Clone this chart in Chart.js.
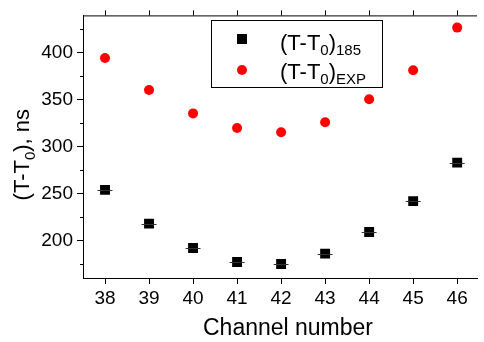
<!DOCTYPE html>
<html>
<head>
<meta charset="utf-8">
<script src="https://cdn.jsdelivr.net/npm/chart.js@4.4.0/dist/chart.umd.min.js"></script>
<style>
  html, body { margin: 0; padding: 0; background: #fff; }
  #wrap { width: 484px; height: 342px; position: relative; }
</style>
</head>
<body>
<div id="wrap"><canvas id="chart"></canvas></div>
<script>
// data
const channels = [38, 39, 40, 41, 42, 43, 44, 45, 46];
const t185 = [254, 218, 192, 177, 175, 186, 209, 242, 283];
const tExp = [394.5, 360.5, 335.5, 320, 315.5, 326, 350.5, 381.5, 427];
const t185Err = [0.17, 0.17, 0.17, 0.17, 0.17, 0.17, 0.17, 0.17, 0.17];
const xTicks = [38, 39, 40, 41, 42, 43, 44, 45, 46];
const yTicks = [200, 250, 300, 350, 400];
const yMinorTicks = [175, 225, 275, 325, 375, 425];

const FONT = "'Liberation Sans', Arial, sans-serif";

// draws text with a subscript part: parts = [[text, isSub], ...]
function drawRich(ctx, parts, x, y, size, subSize, subShift) {
  let cx = x;
  parts.forEach(function (p) {
    ctx.font = (p[1] ? subSize : size) + "px " + FONT;
    ctx.fillText(p[0], cx, p[1] ? y + subShift : y);
    cx += ctx.measureText(p[0]).width;
  });
  return cx - x;
}

function richWidth(ctx, parts, size, subSize) {
  let w = 0;
  parts.forEach(function (p) {
    ctx.font = (p[1] ? subSize : size) + "px " + FONT;
    w += ctx.measureText(p[0]).width;
  });
  return w;
}

const decorPlugin = {
  id: "decor",
  afterDatasetsDraw(chart) {
    const ctx = chart.ctx;
    const xs = chart.scales.x;
    const ys = chart.scales.y;
    const area = chart.chartArea;
    ctx.save();

    // error bars on black squares
    ctx.strokeStyle = "#333";
    ctx.lineWidth = 1;
    channels.forEach(function (c, i) {
      const y = Math.round(ys.getPixelForValue(t185[i])) + 0.5;
      ctx.beginPath();
      ctx.moveTo(xs.getPixelForValue(c - t185Err[i]), y);
      ctx.lineTo(xs.getPixelForValue(c + t185Err[i]), y);
      ctx.stroke();
    });

    // top frame line and ticks
    ctx.strokeStyle = "#000";
    ctx.beginPath();
    ctx.moveTo(area.left, area.top + 0.5);
    ctx.lineTo(area.right, area.top + 0.5);
    ctx.stroke();
    xTicks.forEach(function (v) {
      const x = Math.round(xs.getPixelForValue(v)) + 0.5;
      ctx.beginPath();
      ctx.moveTo(x, area.top);
      ctx.lineTo(x, area.top - 5);
      ctx.stroke();
    });

    // minor y ticks
    yMinorTicks.forEach(function (v) {
      const y = Math.round(ys.getPixelForValue(v)) + 0.5;
      ctx.beginPath();
      ctx.moveTo(area.left, y);
      ctx.lineTo(area.left - 3, y);
      ctx.stroke();
    });

    // legend
    const lx = 211.5, ly = 20.5, lw = 171, lh = 67;
    ctx.fillStyle = "#fff";
    ctx.fillRect(lx, ly, lw, lh);
    ctx.strokeStyle = "#000";
    ctx.strokeRect(lx, ly, lw, lh);
    ctx.fillStyle = "#000";
    ctx.fillRect(237, 34, 10, 10);
    ctx.fillStyle = "#ff0000";
    ctx.beginPath();
    ctx.arc(242, 70, 5, 0, Math.PI * 2);
    ctx.fill();
    ctx.fillStyle = "#000";
    ctx.textAlign = "left";
    ctx.textBaseline = "alphabetic";
    drawRich(ctx, [["(T-T", false], ["0", true], [")", false], ["185", true]], 280, 50, 22, 15, 5);
    drawRich(ctx, [["(T-T", false], ["0", true], [")", false], ["EXP", true]], 280, 79, 22, 15, 5);

    // x title
    ctx.font = "23px " + FONT;
    ctx.textAlign = "center";
    ctx.fillText("Channel number", 288, 335);

    // y title, rotated
    const yParts = [["(T-T", false], ["0", true], ["), ns", false]];
    ctx.translate(29, (area.top + area.bottom) / 2 + 8);
    ctx.rotate(-Math.PI / 2);
    ctx.textAlign = "left";
    const w = richWidth(ctx, yParts, 22, 15);
    drawRich(ctx, yParts, -w / 2, 0, 22, 15, 6);

    ctx.restore();
  },
};

new Chart(document.getElementById("chart"), {
  type: "scatter",
  data: {
    datasets: [
      {
        label: "(T-T0)185",
        data: channels.map((c, i) => ({ x: c, y: t185[i] })),
        pointStyle: "rect",
        pointRadius: 7,
        backgroundColor: "#000",
        borderColor: "#000",
        borderWidth: 0,
      },
      {
        label: "(T-T0)EXP",
        data: channels.map((c, i) => ({ x: c, y: tExp[i] })),
        pointStyle: "circle",
        pointRadius: 5,
        backgroundColor: "#ff0000",
        borderColor: "#ff0000",
        borderWidth: 0,
      },
    ],
  },
  options: {
    responsive: true,
    maintainAspectRatio: false,
    animation: false,
    layout: { padding: { top: 6, right: 0, left: 0, bottom: 0 } },
    plugins: {
      legend: { display: false },
      tooltip: { enabled: false },
    },
    scales: {
      x: {
        type: "linear",
        min: 37.5,
        max: 46.45,
        afterBuildTicks: function (scale) {
          scale.ticks = xTicks.map((v) => ({ value: v }));
        },
        afterFit: function (scale) {
          scale.height = 64;
        },
        grid: {
          drawOnChartArea: false,
          drawTicks: true,
          tickLength: 6,
          color: "#000",
        },
        border: { color: "#000", width: 1 },
        ticks: {
          color: "#000",
          padding: 3,
          maxRotation: 0,
          font: { family: FONT, size: 19 },
        },
      },
      y: {
        type: "linear",
        min: 160,
        max: 440,
        afterBuildTicks: function (scale) {
          scale.ticks = yTicks.map((v) => ({ value: v }));
        },
        afterFit: function (scale) {
          scale.width = 83;
        },
        grid: {
          drawOnChartArea: false,
          drawTicks: true,
          tickLength: 6,
          color: "#000",
        },
        border: { color: "#000", width: 1 },
        ticks: {
          color: "#000",
          padding: 4,
          font: { family: FONT, size: 19 },
        },
      },
    },
  },
  plugins: [decorPlugin],
});
</script>
</body>
</html>
